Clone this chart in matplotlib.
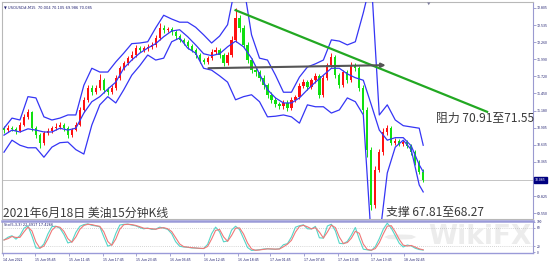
import matplotlib
matplotlib.use("Agg")
import matplotlib.pyplot as plt
import numpy as np
import pandas as pd

plt.rcParams['font.family'] = ['Noto Sans CJK SC', 'DejaVu Sans']

# USOUSD M15, resampled reading of the screenshot (one candle ~ 3 bars)
closes = [70.87, 70.90, 70.89, 70.86, 70.95, 71.08, 71.16, 70.90, 70.79, 70.67,
          70.82, 70.86, 70.90, 70.92, 70.95, 70.90, 70.79, 70.87, 70.95, 71.19,
          71.35, 71.54, 71.47, 71.54, 71.66, 71.51, 71.47, 71.54, 71.70, 71.85,
          71.93, 72.01, 72.06, 72.17, 72.14, 72.17, 72.19, 72.22, 72.33, 72.49,
          72.46, 72.47, 72.42, 72.36, 72.30, 72.27, 72.20, 72.14, 72.06, 71.98,
          71.95, 72.01, 72.11, 72.14, 72.06, 71.93, 72.06, 72.30, 72.65, 72.49,
          72.22, 71.98, 71.82, 71.79, 71.70, 71.58, 71.43, 71.35, 71.28, 71.25,
          71.30, 71.22, 71.35, 71.39, 71.57, 71.63, 71.55, 71.66, 71.73, 71.43,
          71.70, 71.90, 72.03, 71.74, 71.58, 71.79, 71.66, 71.90, 71.85, 71.54,
          71.19, 70.55, 69.68, 70.24, 70.52, 70.84, 70.90, 70.67, 70.70, 70.65,
          70.68, 70.62, 70.52, 70.35, 70.21, 70.085]
highs = [70.93, 70.95, 70.94, 70.92, 71.00, 71.13, 71.20, 71.18, 70.93, 70.82,
         70.86, 70.90, 70.94, 70.98, 71.00, 70.98, 70.93, 70.91, 71.00, 71.24,
         71.40, 71.58, 71.58, 71.58, 71.76, 71.70, 71.55, 71.58, 71.74, 71.89,
         71.97, 72.05, 72.12, 72.22, 72.20, 72.21, 72.23, 72.27, 72.38, 72.56,
         72.53, 72.51, 72.50, 72.45, 72.39, 72.33, 72.30, 72.23, 72.17, 72.09,
         72.02, 72.05, 72.15, 72.19, 72.17, 72.09, 72.10, 72.36, 72.80, 72.70,
         72.53, 72.26, 72.02, 71.87, 71.83, 71.74, 71.62, 71.47, 71.39, 71.32,
         71.35, 71.34, 71.39, 71.43, 71.61, 71.68, 71.67, 71.70, 71.78, 71.76,
         71.74, 71.94, 72.09, 72.06, 71.78, 71.83, 71.83, 71.95, 71.94, 71.88,
         71.58, 71.23, 70.60, 70.30, 70.57, 70.90, 70.95, 70.93, 70.74, 70.73,
         70.72, 70.71, 70.65, 70.56, 70.39, 70.25]
lows = [70.83, 70.84, 70.85, 70.81, 70.84, 70.93, 71.05, 70.86, 70.74, 70.58,
        70.64, 70.79, 70.83, 70.87, 70.89, 70.86, 70.74, 70.76, 70.85, 70.93,
        71.16, 71.32, 71.43, 71.44, 71.50, 71.46, 71.42, 71.44, 71.51, 71.67,
        71.82, 71.90, 71.98, 72.03, 72.10, 72.11, 72.13, 72.16, 72.19, 72.30,
        72.41, 72.42, 72.38, 72.31, 72.26, 72.22, 72.16, 72.10, 72.02, 71.94,
        71.91, 71.92, 71.98, 72.08, 72.02, 71.88, 71.90, 72.03, 72.27, 72.43,
        72.17, 71.93, 71.77, 71.73, 71.65, 71.52, 71.38, 71.30, 71.23, 71.20,
        71.21, 71.18, 71.19, 71.31, 71.36, 71.54, 71.50, 71.52, 71.62, 71.38,
        71.40, 71.67, 71.87, 71.69, 71.53, 71.55, 71.61, 71.63, 71.80, 71.49,
        71.12, 70.45, 69.60, 69.63, 70.20, 70.48, 70.80, 70.63, 70.63, 70.61,
        70.62, 70.58, 70.48, 70.31, 70.17, 70.05]

# Bollinger bands, every second candle
bb_upper = [70.90, 71.06, 71.03, 71.40, 71.38, 71.08, 71.03, 71.06, 71.11, 71.11,
            71.58, 71.85, 71.79, 71.79, 71.95, 72.09, 72.24, 72.25, 72.27, 72.49,
            72.69, 72.63, 72.58, 72.58, 72.50, 72.38, 72.25, 72.36, 72.54, 73.17,
            73.17, 72.38, 72.01, 71.98, 71.74, 71.47, 71.47, 71.71, 71.87, 71.92,
            71.98, 72.30, 72.28, 72.22, 72.27, 72.73, 73.25, 71.11, 71.27, 71.03,
            70.94, 70.92, 70.90, 70.63]
bb_mid = [70.79, 70.87, 70.84, 70.89, 70.87, 70.84, 70.84, 70.90, 70.87, 70.90,
          71.14, 71.32, 71.40, 71.52, 71.63, 71.85, 71.98, 72.09, 72.17, 72.24,
          72.35, 72.44, 72.46, 72.35, 72.22, 72.08, 72.05, 72.08, 72.19, 72.28,
          72.19, 72.01, 71.76, 71.51, 71.38, 71.30, 71.30, 71.38, 71.51, 71.63,
          71.74, 71.85, 71.85, 71.76, 71.70, 71.66, 71.27, 70.87, 70.71, 70.75,
          70.75, 70.62, 70.32, 70.21]
bb_lower = [70.52, 70.71, 70.63, 70.59, 70.59, 70.44, 70.60, 70.67, 70.68, 70.56,
            70.49, 70.95, 71.27, 71.40, 71.30, 71.51, 71.74, 71.89, 72.06, 71.98,
            72.01, 72.27, 72.33, 72.17, 72.09, 71.85, 71.82, 71.73, 71.63, 71.35,
            71.40, 71.43, 71.32, 71.08, 71.09, 71.11, 71.08, 70.98, 71.27, 71.24,
            71.24, 71.14, 71.19, 71.38, 71.32, 71.11, 69.13, 69.13, 70.19, 70.60,
            70.71, 70.56, 70.00, 69.89]

price_ticks = [72.805, 72.535, 72.260, 71.990, 71.720, 71.450, 71.180,
               70.905, 70.635, 70.365, 69.825, 69.550]
time_pos = [-0.25, 7.75, 16.25, 24.75, 33, 41.5, 50, 58.5, 66.75, 75.25, 83.75, 92, 100.25]
time_labels = ['14 Jun 2021', '15 Jun 05:45', '15 Jun 11:45', '15 Jun 17:45',
               '15 Jun 23:45', '16 Jun 06:45', '16 Jun 12:45', '16 Jun 18:45',
               '17 Jun 01:45', '17 Jun 07:45', '17 Jun 13:45', '17 Jun 19:45',
               '18 Jun 02:45']

# drawn objects (bar index, price)
green_line_x = [58, 121]
green_line_y = [72.77, 71.16]
grey_line_x = [50.5, 96.3]
grey_line_y = [71.85, 71.90]

c = np.array(closes)
o = np.r_[70.90, c[:-1]]
h = np.array(highs)
l = np.array(lows)
x = np.arange(len(c))
bb_x = np.r_[np.arange(0, len(c) - 1, 2), len(c) - 1]

s = pd.Series(c)
hh = pd.Series(h).rolling(4, min_periods=1).max()
ll = pd.Series(l).rolling(4, min_periods=1).min()
raw = (s - ll) / (hh - ll) * 100
k = raw.rolling(2, min_periods=1).mean()
d = k.rolling(2, min_periods=1).mean()

W, H = 554, 265
fig = plt.figure(figsize=(W / 100, H / 100), dpi=100)
ax = fig.add_axes([2 / W, 1 - 219 / H, 531 / W, 217 / H])
ax2 = fig.add_axes([2 / W, 1 - 253 / H, 531 / W, 32 / H])

xlim = (-0.5, 132.5)
ax.set_xlim(*xlim)
ax.set_ylim(69.461, 72.90)

up = c >= o
cols = np.where(up, '#ff1010', '#10e010')
ax.vlines(x, l, h, colors=cols, lw=0.7, zorder=3)
body = np.maximum(np.abs(c - o), 0.012)
ax.bar(x, body, bottom=np.minimum(o, c), width=0.55, color=cols, zorder=3)

for band in (bb_upper, bb_mid, bb_lower):
    ax.plot(bb_x, band, color='#3535f5', lw=0.9, zorder=4)

ax.axhline(c[-1], color='#c4c4c4', lw=0.7, zorder=1)
ax.plot(green_line_x, green_line_y, color='#22a822', lw=1.6, zorder=5)
ax.annotate('', xy=(grey_line_x[1], grey_line_y[1]), xytext=(grey_line_x[0], grey_line_y[0]),
            arrowprops=dict(arrowstyle='-|>', color='#555555', lw=1.5, mutation_scale=6),
            zorder=5)

ax.yaxis.tick_right()
ax.set_yticks(price_ticks)
ax.set_yticklabels([f'{p:.3f}' for p in price_ticks])
ax.tick_params(axis='y', labelsize=2.6, colors='#8080c0', labelcolor='#202070',
               length=2, width=0.5, pad=1)
ax.set_xticks([])
ax.annotate(f'{c[-1]:.3f}', xy=(1, c[-1]), xycoords=('axes fraction', 'data'),
            xytext=(1.5, 0), textcoords='offset points', va='center', ha='left',
            fontsize=2.6, color='white',
            bbox=dict(boxstyle='square,pad=0.25', fc='#000080', ec='#000080'))
ax.text(0.003, 0.985, '▼ USOUSD#,M15  70.004 70.105 69.986 70.085', transform=ax.transAxes,
        fontsize=2.6, color='#202070', va='top', ha='left', family='DejaVu Sans')
ax.text(106.3, 72.9, '▼', fontsize=2.5, color='#8080a0', ha='center', va='top')

for sp in ['left', 'top', 'bottom']:
    ax.spines[sp].set_color('#b8b8b8')
    ax.spines[sp].set_linewidth(0.8)
ax.spines['right'].set_color('#9a9ad0')
ax.spines['right'].set_linewidth(0.8)

# stochastic panel
ax2.set_xlim(*xlim)
ax2.set_ylim(-3, 103)
ax2.plot(x, k, color='#55d6c8', lw=0.8, zorder=3)
ax2.plot(x, d, color='#f07878', lw=0.8, zorder=3)
for lev in (20, 80):
    ax2.axhline(lev, color='#b0b0b0', lw=0.5, ls=(0, (1, 2)), zorder=1)
ax2.yaxis.tick_right()
ax2.set_yticks([100, 80, 20, 0])
ax2.set_yticklabels(['100', '80', '20', '0'])
ax2.tick_params(axis='y', labelsize=2.4, colors='#8080c0', labelcolor='#202070',
                length=1.5, width=0.5, pad=1)
ax2.set_xticks(time_pos)
ax2.set_xticklabels(time_labels, ha='left')
ax2.tick_params(axis='x', labelsize=2.6, colors='#8080c0', labelcolor='#202070',
                length=2, width=0.5, pad=1.5)
ax2.text(0.003, 0.95, 'Sto(5,3,3) 22.4917 17.4266', transform=ax2.transAxes,
         fontsize=2.5, color='#202070', va='top', ha='left', family='DejaVu Sans')
ax2.text(0.997, 0.5, 'WikiFX', transform=ax2.transAxes, fontsize=19, weight='bold',
         color='#ececec', ha='right', va='center', family='DejaVu Sans', zorder=0)
ax2.add_patch(plt.Circle((0.75, 0.5), 0.022, transform=ax2.transAxes, fill=False,
                         ec='#ececec', lw=2.5, zorder=0))
ax2.spines['top'].set_color('#9a9ad8')
ax2.spines['top'].set_linewidth(1.8)
ax2.spines['bottom'].set_color('#9a9ad8')
ax2.spines['bottom'].set_linewidth(1.0)
ax2.spines['left'].set_color('#b8b8b8')
ax2.spines['right'].set_color('#9a9ad0')

# annotations
txt = dict(fontsize=8.6, color='#3a3a3a', va='center', ha='left')
fig.text(3 / W, 1 - 213.5 / H, '2021年6月18日 美油15分钟K线', **txt)
fig.text(386 / W, 1 - 212 / H, '支撑 67.81至68.27', **txt)
fig.text(436 / W, 1 - 118.5 / H, '阻力 70.91至71.55', **txt)

fig.savefig('out.png', dpi=100)
